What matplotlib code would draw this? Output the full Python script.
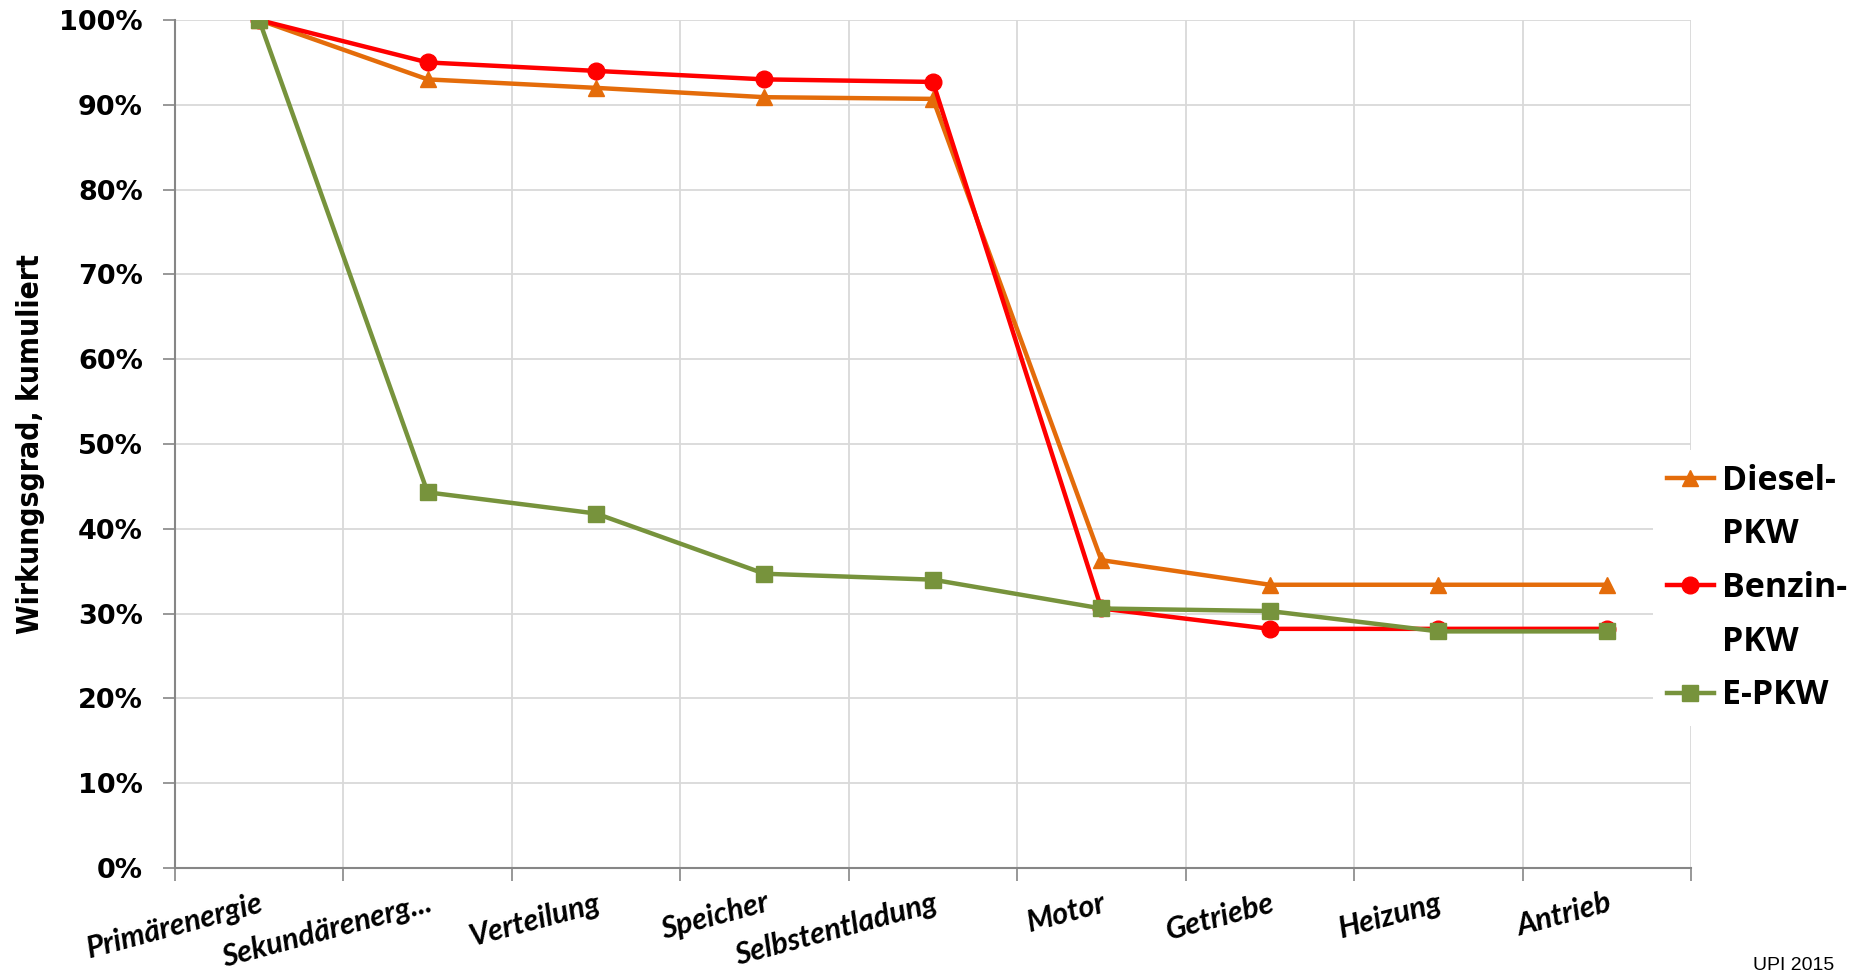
import matplotlib
matplotlib.use("Agg")
import matplotlib.pyplot as plt
from matplotlib.lines import Line2D
from matplotlib.ticker import FixedLocator, PercentFormatter

stufen = ["Primärenergie", "Sekundärenerg...", "Verteilung", "Speicher",
          "Selbstentladung", "Motor", "Getriebe", "Heizung", "Antrieb"]
diesel = [100, 93.0, 92.0, 90.9, 90.7, 36.3, 33.4, 33.4, 33.4]
benzin = [100, 95.0, 94.0, 93.0, 92.7, 30.6, 28.2, 28.2, 28.2]
e_pkw = [100, 44.3, 41.8, 34.7, 34.0, 30.6, 30.3, 27.9, 27.9]
y_ticks = list(range(0, 101, 10))

ORANGE = "#E46C0A"
RED = "#FF0000"
GREEN = "#77933C"
GRID = "#D9D9D9"
AXIS = "#868686"

fig = plt.figure(figsize=(18.59, 9.77), dpi=100)
ax = fig.add_axes([0.0941, 0.1116, 0.8155, 0.8679])

x = range(len(stufen))
l_diesel, = ax.plot(x, diesel, color=ORANGE, lw=3.2, marker="^", ms=12, zorder=3)
l_benzin, = ax.plot(x, benzin, color=RED, lw=3.2, marker="o", ms=12, zorder=4)
l_epkw, = ax.plot(x, e_pkw, color=GREEN, lw=3.2, marker="s", ms=11.5, zorder=5)

ax.set_xlim(-0.5, len(stufen) - 0.5)
ax.set_ylim(0, 100)
ax.yaxis.set_major_locator(FixedLocator(y_ticks))
ax.yaxis.set_major_formatter(PercentFormatter(decimals=0))

# category labels sit on the centres, tick marks and grid on the boundaries
ax.set_xticks(list(x))
ax.set_xticks([i - 0.5 for i in range(len(stufen) + 1)], minor=True)
ax.set_xticklabels(stufen, rotation=15, ha="right", va="top", rotation_mode="anchor",
                   fontfamily="Lato", fontweight="bold", fontstyle="italic", fontsize=22)
ax.tick_params(axis="x", which="major", length=0, pad=15)
ax.tick_params(axis="x", which="minor", length=9, width=1.2, color=AXIS)
ax.tick_params(axis="y", length=9, width=1.2, color=AXIS, pad=14)
for lbl in ax.get_yticklabels():
    lbl.set_fontfamily("DejaVu Sans")
    lbl.set_fontweight("bold")
    lbl.set_fontsize(19.5)

ax.grid(True, axis="y", which="major", color=GRID, lw=1.3)
ax.grid(True, axis="x", which="minor", color=GRID, lw=1.3)
ax.grid(False, axis="x", which="major")
ax.set_axisbelow(True)

for side in ("top", "right"):
    ax.spines[side].set_visible(False)
for side in ("left", "bottom"):
    ax.spines[side].set_color(AXIS)
    ax.spines[side].set_linewidth(1.5)

ax.set_ylabel("Wirkungsgrad, kumuliert", fontfamily="DejaVu Sans", fontstretch="condensed",
              fontweight="bold", fontsize=21.5, labelpad=10)

# two-line labels: the marker stays on the first line, "PKW" goes on its own row
blank = Line2D([], [], color="none")
leg = fig.legend([l_diesel, blank, l_benzin, blank, l_epkw],
                 ["Diesel-", "PKW", "Benzin-", "PKW", "E-PKW"],
                 loc="center left", bbox_to_anchor=(1636 / 1859, 1 - 588 / 977),
                 frameon=True, facecolor="white", edgecolor="none", framealpha=1,
                 handlelength=1.4, handletextpad=0.22, labelspacing=0.58, borderpad=0.4,
                 prop={"family": "Open Sans", "weight": "bold", "size": 24.5})

fig.text(1834 / 1859, 1 - 966 / 977, "UPI 2015", ha="right", va="center",
         fontfamily=["Liberation Sans Narrow", "Liberation Sans"], fontsize=14)

fig.savefig("out.png", dpi=100)
